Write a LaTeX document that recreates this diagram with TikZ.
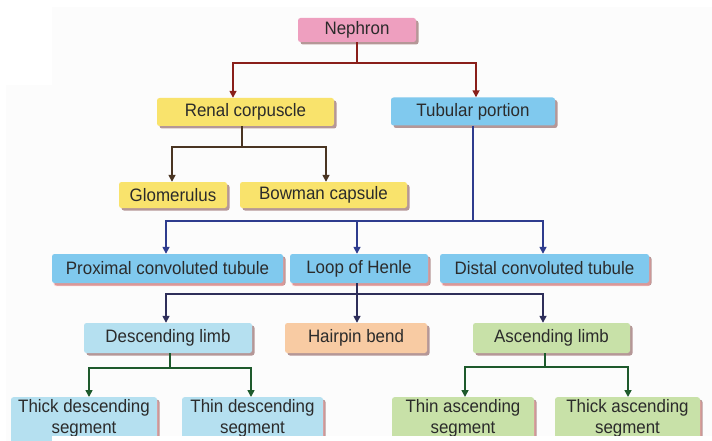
\documentclass[tikz,border=0pt]{standalone}
\usepackage{fontspec}
\setmainfont[FakeStretch=0.94]{Liberation Sans}
\usetikzlibrary{arrows.meta,shadows}
\definecolor{txt}{HTML}{2B2B2B}
\definecolor{pinkbox}{HTML}{EE9FBF}
\definecolor{yellowbox}{HTML}{F9E36C}
\definecolor{bluebox}{HTML}{80C9EE}
\definecolor{lightblue}{HTML}{B5E0F0}
\definecolor{peach}{HTML}{F8CBA3}
\definecolor{greenbox}{HTML}{C8E1A8}
\definecolor{redline}{HTML}{8A1F1A}
\definecolor{brownline}{HTML}{4A3522}
\definecolor{blueline}{HTML}{2E3C8E}
\definecolor{navyline}{HTML}{2E2E5A}
\definecolor{greenline}{HTML}{1E5A2C}
\definecolor{bgfaint}{HTML}{FCFCFC}
\tikzset{
  box/.style={draw=none, rounded corners=2.5pt, inner sep=0pt, text=txt,
    font=\fontsize{18}{20}\selectfont, align=center,
    drop shadow={shadow xshift=2.5pt, shadow yshift=-2.5pt, fill=black!70!red, opacity=.4}},
  pshadow/.style={drop shadow={shadow xshift=1.5pt, shadow yshift=-3pt, fill=red!40, opacity=.5}},
  conn/.style={line width=1.6pt},
  arr/.style={conn, -{Triangle[width=7pt,length=7pt]}},
}
\begin{document}
\begin{tikzpicture}[x=1pt,y=-1pt]
\useasboundingbox (0,0) rectangle (712,441);
\clip (0,0) rectangle (712,441);
\fill[white] (0,0) rectangle (712,441);
\fill[bgfaint] (52,7) rectangle (712,441);
\fill[bgfaint] (6,85) rectangle (52,441);

% nodes
\node[box, fill=pinkbox, minimum width=118pt, minimum height=24pt] (neph) at (357,30) {Nephron};
\node[box, fill=yellowbox, minimum width=177pt, minimum height=28pt] (rc) at (245.5,112) {Renal corpuscle};
\node[box, fill=bluebox, minimum width=164pt, minimum height=28pt] (tp) at (473,111.5) {Tubular portion};
\node[box, fill=yellowbox, minimum width=108pt, minimum height=26pt] (glo) at (173,195) {Glomerulus};
\node[box, fill=yellowbox, minimum width=167pt, minimum height=26pt] (bow) at (323.5,195) {Bowman capsule};
\node[box, pshadow, fill=bluebox, minimum width=231pt, minimum height=29pt] (pct) at (167.5,268.5) {Proximal convoluted tubule};
\node[box, pshadow, fill=bluebox, minimum width=138pt, minimum height=29pt] (loh) at (359,268.5) {Loop of Henle};
\node[box, pshadow, fill=bluebox, minimum width=209pt, minimum height=29pt] (dct) at (544.5,268.5) {Distal convoluted tubule};
\node[box, fill=lightblue, minimum width=168pt, minimum height=30pt] (dl) at (168,338) {Descending limb};
\node[box, fill=peach, minimum width=142pt, minimum height=30pt] (hb) at (356,338) {Hairpin bend};
\node[box, fill=greenbox, minimum width=157pt, minimum height=30pt] (al) at (551.5,338) {Ascending limb};
\node[box, pshadow, fill=lightblue, minimum width=146pt, minimum height=60pt, anchor=north] (tkd) at (84,397) {\rule{0pt}{15pt}Thick descending\\[1pt]segment\\[10pt]};
\node[box, pshadow, fill=lightblue, minimum width=141pt, minimum height=60pt, anchor=north] (tnd) at (252.5,397) {\rule{0pt}{15pt}Thin descending\\[1pt]segment\\[10pt]};
\node[box, pshadow, fill=greenbox, minimum width=142pt, minimum height=60pt, anchor=north] (tna) at (463,397) {\rule{0pt}{15pt}Thin ascending\\[1pt]segment\\[10pt]};
\node[box, pshadow, fill=greenbox, minimum width=145pt, minimum height=60pt, anchor=north] (tka) at (627.5,397) {\rule{0pt}{15pt}Thick ascending\\[1pt]segment\\[10pt]};

% junctions
\coordinate (j1) at (357,63);
\coordinate (j2) at (242,147);
\coordinate (j3) at (473,221);
\coordinate (j4) at (357,294);
\coordinate (j5) at (170,368);
\coordinate (j6) at (545,367);

% connectors
\draw[conn, redline] (neph.south) -- (j1);
\draw[arr, redline] (j1) -| ([xshift=-12.5pt]rc.north);
\draw[arr, redline] (j1) -| ([xshift=3pt]tp.north);

\draw[conn, brownline] ([xshift=-3.5pt]rc.south) -- (j2);
\draw[arr, brownline] (j2) -| ([xshift=-1pt]glo.north);
\draw[arr, brownline] (j2) -| ([xshift=2.5pt]bow.north);

\draw[conn, blueline] (tp.south) -- (j3);
\draw[arr, blueline] (j3) -| ([xshift=-1.5pt]pct.north);
\draw[arr, blueline] (j3) -| ([xshift=-2pt]loh.north);
\draw[arr, blueline] (j3) -| ([xshift=-1.5pt]dct.north);

\draw[conn, navyline] ([xshift=-2pt]loh.south) -- (j4);
\draw[arr, navyline] (j4) -| ([xshift=-2pt]dl.north);
\draw[arr, navyline] (j4) -| ([xshift=1pt]hb.north);
\draw[arr, navyline] (j4) -| ([xshift=-8.5pt]al.north);

\draw[conn, greenline] ([xshift=2pt]dl.south) -- (j5);
\draw[arr, greenline] (j5) -| ([xshift=5pt]tkd.north);
\draw[arr, greenline] (j5) -| ([xshift=-1.5pt]tnd.north);

\draw[conn, greenline] ([xshift=-6.5pt]al.south) -- (j6);
\draw[arr, greenline] (j6) -| ([xshift=2pt]tna.north);
\draw[arr, greenline] (j6) -| ([xshift=0.5pt]tka.north);

% bottom white strip
\fill[white] (52,436) rectangle (712,441);
\end{tikzpicture}
\end{document}
